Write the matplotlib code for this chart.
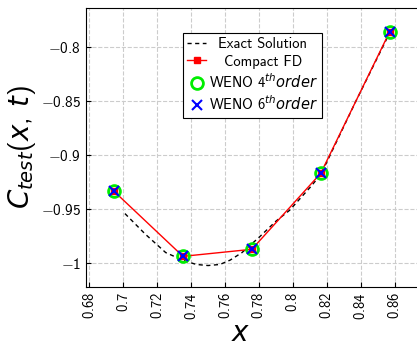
import matplotlib
matplotlib.use("Agg")
import matplotlib.pyplot as plt
from matplotlib.ticker import FuncFormatter

# Data
x_num = [0.6945, 0.7352, 0.7758, 0.8164, 0.8570]
y_fd = [-0.9333, -0.9935, -0.9870, -0.9167, -0.7860]
y_weno4 = [-0.9333, -0.9935, -0.9870, -0.9167, -0.7860]
y_weno6 = [-0.9333, -0.9935, -0.9870, -0.9167, -0.7860]

x_exact = [0.701, 0.713, 0.725, 0.735, 0.743, 0.750, 0.757, 0.763, 0.770,
           0.780, 0.790, 0.798, 0.810, 0.8164, 0.837, 0.857]
y_exact = [-0.954, -0.973, -0.990, -0.997, -1.001, -1.002, -1.001, -0.997, -0.990,
           -0.976, -0.961, -0.951, -0.930, -0.918, -0.8505, -0.787]

xticks = [0.68, 0.70, 0.72, 0.74, 0.76, 0.78, 0.80, 0.82, 0.84, 0.86]
yticks = [-1.0, -0.95, -0.9, -0.85, -0.8]

plt.rcParams['font.family'] = ['cmss10', 'DejaVu Sans']
plt.rcParams['mathtext.fontset'] = 'custom'
plt.rcParams['mathtext.rm'] = 'cmss10'
plt.rcParams['mathtext.sf'] = 'cmss10'
plt.rcParams['mathtext.it'] = 'DejaVu Sans:italic'
plt.rcParams['mathtext.bf'] = 'DejaVu Sans:bold'
plt.rcParams['axes.unicode_minus'] = True

fig = plt.figure(figsize=(4.17, 3.46), dpi=100)
# axes run past the right edge of the figure, as in the (cropped) reference
ax = fig.add_axes([0.206, 0.170, 0.844, 0.807])

ax.plot(x_exact, y_exact, '--', color='black', lw=1.0, dashes=(3, 2.5), label='Exact Solution', zorder=2)
ax.plot(x_num, y_fd, '-', color='red', lw=1.0, marker='s', markersize=4, label='Compact FD', zorder=3)
ax.plot(x_num, y_weno4, 'o', color='#00ee00', mfc='none', mew=2, markersize=8.5,
        label=r'WENO $4^{th}order$', zorder=4)
ax.plot(x_num, y_weno6, 'x', color='blue', mew=1.5, markersize=6.5,
        label=r'WENO $6^{th}order$', zorder=5)

ax.set_xlim(0.678, 0.8854)
ax.set_ylim(-1.022, -0.764)
ax.set_xticks(xticks)
ax.set_yticks(yticks)
fmt = FuncFormatter(lambda v, p: '$%s$' % ('%g' % round(v, 4)))
ax.xaxis.set_major_formatter(fmt)
ax.yaxis.set_major_formatter(fmt)
ax.tick_params(axis='x', labelrotation=90, labelsize=10.5, direction='in')
ax.tick_params(axis='y', labelsize=11, direction='in')
ax.grid(True, ls='--', color='#cccccc', lw=0.8)
ax.set_axisbelow(True)

ax.set_xlabel(r'$x$', fontsize=20)
ax.set_ylabel(r'$C_{test}(x,\,t)$', fontsize=20)
ax.xaxis.set_label_coords((241 - 86) / (0.844 * 417), -0.122)
ax.yaxis.set_label_coords(-0.137, 0.5)

leg = ax.legend(loc='upper left', bbox_to_anchor=(0.276, 0.912), borderaxespad=0,
                fontsize=10.5, fancybox=False, edgecolor='black', framealpha=1,
                handlelength=1.3, handletextpad=0.15, borderpad=0.3, labelspacing=0.25)
leg.get_frame().set_linewidth(0.8)

# centre the legend texts within their column, as in the reference
fig.canvas.draw()
r = fig.canvas.get_renderer()
texts = leg.get_texts()
widths = [t.get_window_extent(r).width for t in texts]
maxw = max(widths)
for t, w in zip(texts, widths):
    t.set_x((maxw - w) / 2)

fig.savefig('out.png', dpi=100)
